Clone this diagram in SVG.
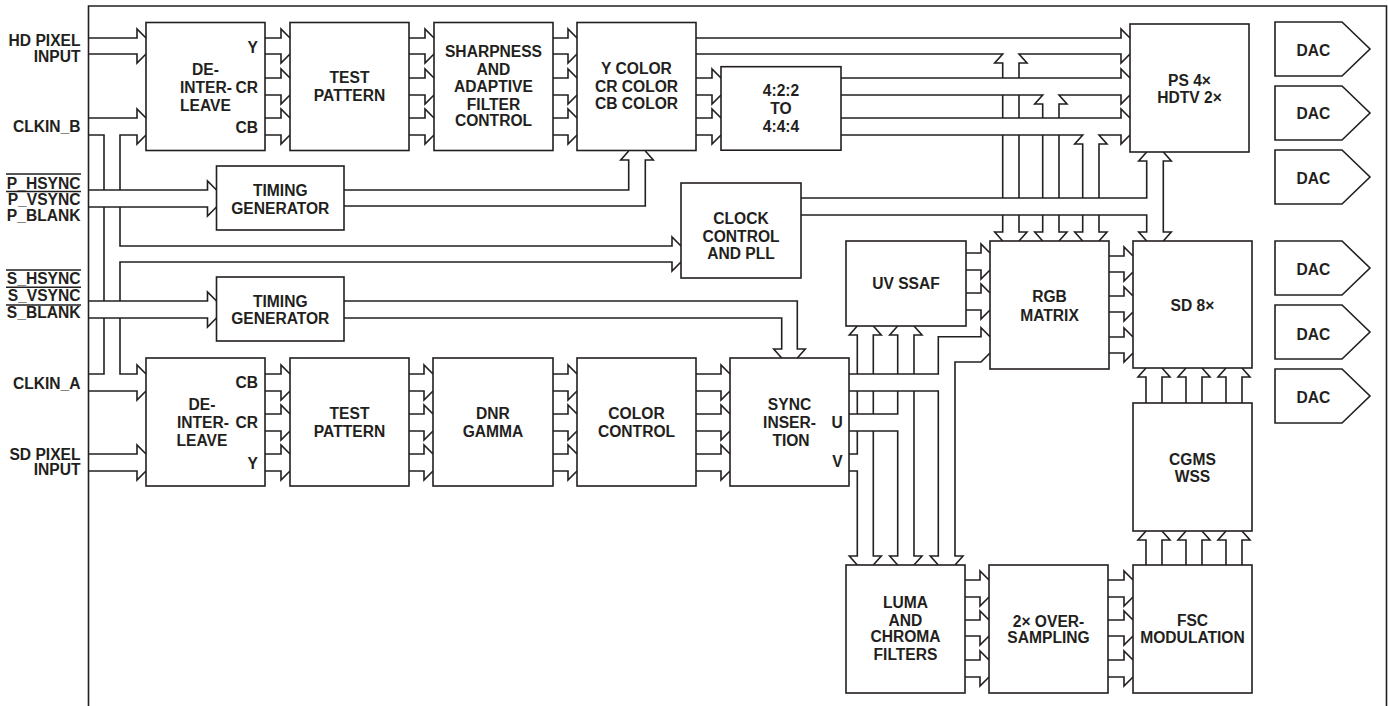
<svg xmlns="http://www.w3.org/2000/svg" width="1388" height="706" viewBox="0 0 1388 706">
<style>
.b{fill:#fff;stroke:#231f20;stroke-width:1.6}
.c{fill:none;stroke:#231f20;stroke-width:1.6;stroke-linejoin:miter;stroke-miterlimit:10}
text{font-family:"Liberation Sans",Arial,Helvetica,sans-serif;font-weight:bold;font-size:15.6px;fill:#231f20}
.m{text-anchor:middle}
.e{text-anchor:end}
</style>
<rect width="1388" height="706" fill="#fff"/>
<path class="c" d="M88.5 710V6H1386.5V710"/>

<g id="labels">
<text class="e" x="80.5" y="46">HD PIXEL</text>
<text class="e" x="80.5" y="61.5">INPUT</text>
<text class="e" x="80.5" y="131.5">CLKIN_B</text>
<text class="e" x="80.5" y="188.5">P_HSYNC</text>
<text class="e" x="80.5" y="205">P_VSYNC</text>
<text class="e" x="80.5" y="221">P_BLANK</text>
<path class="c" d="M6 174H81M6 191.5H81"/>
<text class="e" x="80.5" y="283.5">S_HSYNC</text>
<text class="e" x="80.5" y="300.5">S_VSYNC</text>
<text class="e" x="80.5" y="318">S_BLANK</text>
<path class="c" d="M6 270H81M6 287.3H81M6 305H81"/>
<text class="e" x="80.5" y="389">CLKIN_A</text>
<text class="e" x="80.5" y="459.5">SD PIXEL</text>
<text class="e" x="80.5" y="475">INPUT</text>
</g>

<g id="connectors">
<!-- inputs left -->
<path class="c" d="M89 38H137V29L146 38M89 54H137V63L146 54"/>
<path class="c" d="M89 118H137V109L146 118"/>
<path class="c" d="M89 135H104V190M146 135L137 144V135H120V190"/>
<path class="c" d="M89 190H207.5V181L216.5 190M89 207H207.5V216L216.5 207"/>
<path class="c" d="M104 207V301M104 318V374H89"/>
<path class="c" d="M120 207V246H672V237L681 246M681 262L672 271V262H120V301"/>
<path class="c" d="M89 301H207.5V292L216.5 301M89 318H207.5V327L216.5 318"/>
<path class="c" d="M120 318V374H137V365L146 374M89 391H137V400L146 391"/>
<path class="c" d="M89 454H137V445L146 454M89 471H137V480L146 471"/>
<!-- HD row -->
<path class="c" d="M265 38H281V29L290 38M265 54H281V63L290 54M265 78H281V69L290 78M265 95H281V104L290 95M265 118H281V109L290 118M265 135H281V144L290 135"/>
<path class="c" d="M409 38H425V29L434 38M409 54H425V63L434 54M409 78H425V69L434 78M409 95H425V104L434 95M409 118H425V109L434 118M409 135H425V144L434 135"/>
<path class="c" d="M553 38H568V29L577 38M553 54H568V63L577 54M553 78H568V69L577 78M553 95H568V104L577 95M553 118H568V109L577 118M553 135H568V144L577 135"/>
<path class="c" d="M696 78H712V69L721 78M696 95H712V104L721 95M696 118H712V109L721 118M696 135H712V144L721 135"/>
<path class="c" d="M696 38H1121V29L1130 38"/>
<path class="c" d="M696 54H1002.7L994.7 63H1002.7V78M1019 78V63H1027L1019 54H1121V63L1130 54"/>
<path class="c" d="M1002.7 95V118M1019 95V118M1002.7 135V198M1019 135V198M1002.7 215V232H994.7L1002.7 241M1019 215V232H1027L1019 241"/>
<path class="c" d="M841 78H1121V69L1130 78M841 118H1121V109L1130 118"/>
<path class="c" d="M841 95H1042.7L1034.7 104H1042.7V118M1059 118V104H1067L1059 95H1121V104L1130 95"/>
<path class="c" d="M1042.7 135V198M1059 135V198M1042.7 215V232H1034.7L1042.7 241M1059 215V232H1067L1059 241"/>
<path class="c" d="M841 135H1082.7L1074.7 144H1082.7V198M1099 198V144H1107L1099 135H1121V144L1130 135"/>
<path class="c" d="M1082.7 215V232H1074.7L1082.7 241M1099 215V232H1107L1099 241"/>
<!-- clock output bus + PS/SD link -->
<path class="c" d="M801 198H1146.7V161H1138.7L1146.7 152M801 215H1146.7V232H1138.7L1146.7 241"/>
<path class="c" d="M1163.3 152L1171.3 161H1163.3V232H1171.3L1163.3 241"/>
<!-- timing outputs -->
<path class="c" d="M344 190H628.7V160H620.7L628.7 151M344 206H645.3V160H653.3L645.3 151"/>
<path class="c" d="M344 301H797.3V349H805.3L797.3 358M344 318H781.7V349H773.7L781.7 358"/>
<!-- SD row -->
<path class="c" d="M265 374H281V365L290 374M265 391H281V400L290 391M265 414H281V405L290 414M265 431H281V440L290 431M265 454H281V445L290 454M265 471H281V480L290 471"/>
<path class="c" d="M409 374H424V365L433 374M409 391H424V400L433 391M409 414H424V405L433 414M409 431H424V440L433 431M409 454H424V445L433 454M409 471H424V480L433 471"/>
<path class="c" d="M553 374H568V365L577 374M553 391H568V400L577 391M553 414H568V405L577 414M553 431H568V440L577 431M553 454H568V445L577 454M553 471H568V480L577 471"/>
<path class="c" d="M696 374H721V365L730 374M696 391H721V400L730 391M696 414H721V405L730 414M696 431H721V440L730 431M696 454H721V445L730 454M696 471H721V480L730 471"/>
<!-- sync insertion outputs -->
<path class="c" d="M849 374H938.3V336.7H981V327.7L990 336.7"/>
<path class="c" d="M990 353L981 362H955V556H963L955 565"/>
<path class="c" d="M849 391H938.3V556H930.3L938.3 565"/>
<path class="c" d="M849 414H897.7V391M849 431H897.7V556H889.7L897.7 565"/>
<path class="c" d="M897.7 374V335H889.7L897.7 326M914 374V335H922L914 326M914 391V556H922L914 565"/>
<path class="c" d="M857.3 374V335H849.3L857.3 326M873.3 374V335H881.3L873.3 326"/>
<path class="c" d="M857.3 391V414M873.3 391V414"/>
<path class="c" d="M849 454H857.3V431M873.3 431V556H881.3L873.3 565M849 471H857.3V556H849.3L857.3 565"/>
<!-- UV SSAF to RGB -->
<path class="c" d="M966 253H981V244L990 253M966 270H981V279L990 270M966 293H981V284L990 293M966 310H981V319L990 310"/>
<!-- RGB to SD -->
<path class="c" d="M1109 256H1124V247L1133 256M1109 272H1124V281L1133 272M1109 296H1124V287L1133 296M1109 312H1124V321L1133 312M1109 337H1124V328L1133 337M1109 353H1124V362L1133 353"/>
<!-- CGMS to SD -->
<path class="c" d="M1146 403V377H1138L1146 368M1162 403V377H1170L1162 368M1186 403V377H1178L1186 368M1202 403V377H1210L1202 368M1226 403V377H1218L1226 368M1242 403V377H1250L1242 368"/>
<!-- FSC to CGMS -->
<path class="c" d="M1146 565V540H1138L1146 531M1162 565V540H1170L1162 531M1186 565V540H1178L1186 531M1202 565V540H1210L1202 531M1226 565V540H1218L1226 531M1242 565V540H1250L1242 531"/>
<!-- LUMA to 2x, 2x to FSC -->
<path class="c" d="M965 580H980V571L989 580M965 597H980V606L989 597M965 620H980V611L989 620M965 636H980V645L989 636M965 660H980V651L989 660M965 677H980V686L989 677"/>
<path class="c" d="M1108 580H1124V571L1133 580M1108 597H1124V606L1133 597M1108 620H1124V611L1133 620M1108 636H1124V645L1133 636M1108 660H1124V651L1133 660M1108 677H1124V686L1133 677"/>
</g>

<g id="deinterleave-hd"><rect class="b" x="146" y="22.5" width="119" height="128"/>
<text class="m" x="205.5" y="75">DE-</text><text class="m" x="206" y="93">INTER-</text><text class="m" x="205.5" y="110.6">LEAVE</text>
<text class="e" x="258" y="52.6">Y</text><text class="e" x="258" y="93">CR</text><text class="e" x="258" y="132.6">CB</text></g>
<g id="test-pattern-hd"><rect class="b" x="290" y="22.5" width="119" height="128"/>
<text class="m" x="349.5" y="83">TEST</text><text class="m" x="349.5" y="101">PATTERN</text></g>
<g id="sharpness"><rect class="b" x="434" y="22.5" width="119" height="128"/>
<text class="m" x="493.5" y="57.3">SHARPNESS</text><text class="m" x="493.5" y="75">AND</text><text class="m" x="493.5" y="91.8">ADAPTIVE</text><text class="m" x="493.5" y="110">FILTER</text><text class="m" x="493.5" y="126.3">CONTROL</text></g>
<g id="color-hd"><rect class="b" x="577" y="22.5" width="119" height="128"/>
<text class="m" x="636.5" y="74">Y COLOR</text><text class="m" x="636.5" y="92.3">CR COLOR</text><text class="m" x="636.5" y="109">CB COLOR</text></g>
<g id="conv422"><rect class="b" x="721" y="66.7" width="120" height="83.5"/>
<text class="m" x="781" y="96.3">4:2:2</text><text class="m" x="781" y="114">TO</text><text class="m" x="781" y="131.6">4:4:4</text></g>
<g id="ps-hdtv"><rect class="b" x="1130" y="24" width="119" height="128"/>
<text class="m" x="1189.5" y="85.6">PS 4×</text><text class="m" x="1189.5" y="103.3">HDTV 2×</text></g>
<g id="timing-p"><rect class="b" x="216.5" y="166" width="127.5" height="64"/>
<text class="m" x="280.3" y="195.6">TIMING</text><text class="m" x="280.3" y="214">GENERATOR</text></g>
<g id="clock"><rect class="b" x="681" y="183" width="120" height="95"/>
<text class="m" x="741" y="224">CLOCK</text><text class="m" x="741" y="241.5">CONTROL</text><text class="m" x="741" y="259">AND PLL</text></g>
<g id="timing-s"><rect class="b" x="216.5" y="277" width="127.5" height="64"/>
<text class="m" x="280.3" y="307.3">TIMING</text><text class="m" x="280.3" y="324">GENERATOR</text></g>
<g id="uv-ssaf"><rect class="b" x="846" y="241" width="120" height="85"/>
<text class="m" x="906" y="289">UV SSAF</text></g>
<g id="rgb"><rect class="b" x="990" y="241" width="119" height="128"/>
<text class="m" x="1049.5" y="302.3">RGB</text><text class="m" x="1049.5" y="320.6">MATRIX</text></g>
<g id="sd8"><rect class="b" x="1133" y="241" width="119" height="127"/>
<text class="m" x="1192.5" y="310.6">SD 8×</text></g>
<g id="deinterleave-sd"><rect class="b" x="146" y="358" width="119" height="128"/>
<text class="m" x="202" y="409.6">DE-</text><text class="m" x="203" y="428.3">INTER-</text><text class="m" x="202" y="445.6">LEAVE</text>
<text class="e" x="258" y="388.3">CB</text><text class="e" x="258" y="428.3">CR</text><text class="e" x="258" y="469">Y</text></g>
<g id="test-pattern-sd"><rect class="b" x="290" y="358" width="119" height="128"/>
<text class="m" x="349.5" y="418.6">TEST</text><text class="m" x="349.5" y="437">PATTERN</text></g>
<g id="dnr"><rect class="b" x="433" y="358" width="120" height="128"/>
<text class="m" x="493" y="418.6">DNR</text><text class="m" x="493" y="437">GAMMA</text></g>
<g id="color-sd"><rect class="b" x="577" y="358" width="119" height="128"/>
<text class="m" x="636.5" y="418.6">COLOR</text><text class="m" x="636.5" y="437">CONTROL</text></g>
<g id="sync"><rect class="b" x="730" y="358" width="119" height="128"/>
<text class="m" x="789.5" y="409.6">SYNC</text><text class="m" x="789.5" y="428.3">INSER-</text><text class="m" x="791" y="446.3">TION</text>
<text class="e" x="842.7" y="428.3">U</text><text class="e" x="842.7" y="467.3">V</text></g>
<g id="cgms"><rect class="b" x="1133" y="403" width="119" height="128"/>
<text class="m" x="1192.5" y="465">CGMS</text><text class="m" x="1192.5" y="481.6">WSS</text></g>
<g id="luma"><rect class="b" x="846" y="565" width="119" height="128"/>
<text class="m" x="905.5" y="608.3">LUMA</text><text class="m" x="905.5" y="625.6">AND</text><text class="m" x="905.5" y="642.3">CHROMA</text><text class="m" x="905.5" y="659.6">FILTERS</text></g>
<g id="oversampling"><rect class="b" x="989" y="565" width="119" height="128"/>
<text class="m" x="1048.5" y="626.6">2× OVER-</text><text class="m" x="1048.5" y="643">SAMPLING</text></g>
<g id="fsc"><rect class="b" x="1133" y="565" width="119" height="128"/>
<text class="m" x="1192.5" y="625.6">FSC</text><text class="m" x="1192.5" y="643">MODULATION</text></g>
<g id="dac1"><path class="b" d="M1275 22H1342L1370 49L1342 76H1275Z"/><text class="m" x="1313.5" y="55.6">DAC</text></g>
<g id="dac2"><path class="b" d="M1275 86H1342L1370 113L1342 140H1275Z"/><text class="m" x="1313.5" y="119">DAC</text></g>
<g id="dac3"><path class="b" d="M1275 150H1342L1370 177L1342 204H1275Z"/><text class="m" x="1313.5" y="184">DAC</text></g>
<g id="dac4"><path class="b" d="M1275 241H1342L1370 268L1342 295H1275Z"/><text class="m" x="1313.5" y="275">DAC</text></g>
<g id="dac5"><path class="b" d="M1275 305H1342L1370 332L1342 359H1275Z"/><text class="m" x="1313.5" y="339.6">DAC</text></g>
<g id="dac6"><path class="b" d="M1275 369H1342L1370 396L1342 423H1275Z"/><text class="m" x="1313.5" y="403">DAC</text></g>
</svg>
